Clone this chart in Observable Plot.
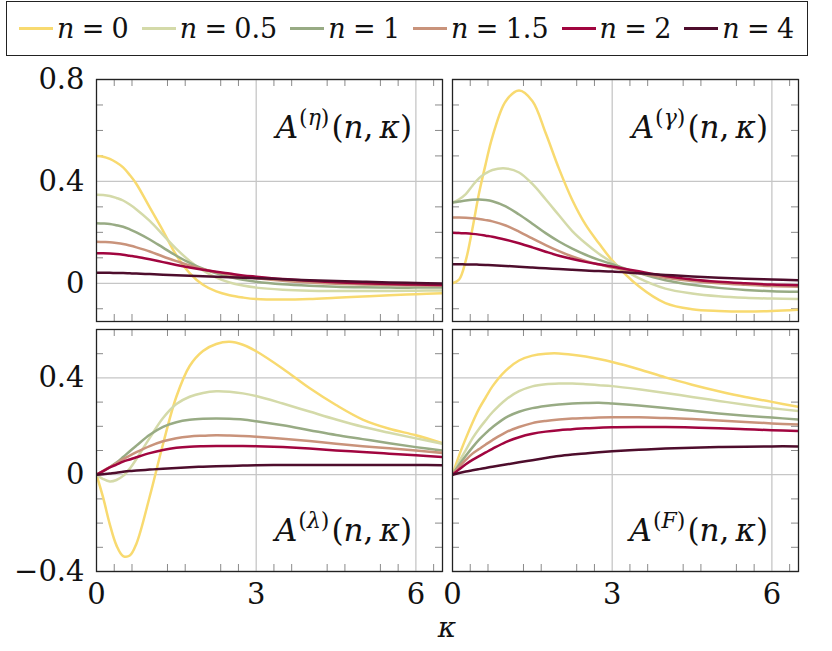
<!DOCTYPE html>
<html><head><meta charset="utf-8">
<script src="https://cdn.jsdelivr.net/npm/d3@7"></script>
<script src="https://cdn.jsdelivr.net/npm/@observablehq/plot@0.6"></script>
<style>
body{margin:0;background:#fff;}
#root{position:relative;width:832px;height:651px;font-family:"DejaVu Serif","Liberation Serif",serif;color:#111;}
#legend{position:absolute;left:6px;top:1px;width:802px;height:55px;box-sizing:border-box;border:1.4px solid #222;display:flex;align-items:center;padding-left:12px;font-size:27px;}
.item{display:flex;align-items:center;margin-right:13px;}
.sw{width:34px;height:3px;margin-right:4px;}
.eq{margin:0 0.27em;}
.panel{position:absolute;}
#kappa{position:absolute;left:407px;width:80px;top:610px;text-align:center;font-style:italic;font-size:28px;line-height:36px;}
</style></head>
<body><div id="root"><div id="legend"></div><div id="kappa">κ</div></div>
<script>
const nValues = ["0","0.5","1","1.5","2","4"];
const colors = ["#f8da70","#d4daa9","#98ab84","#c9937b","#a1053f","#4e0d2c"];
const kappa = [0,0.125,0.25,0.375,0.5,0.625,0.75,1,1.25,1.5,1.75,2,2.25,2.5,2.75,3,3.5,4,4.5,5,5.5,6,6.5];

// A^(eta)
const eta_n0   = [0.5,0.497,0.488,0.474,0.455,0.425,0.39,0.298,0.206,0.11,0.04,-0.006,-0.032,-0.047,-0.056,-0.062,-0.064,-0.062,-0.057,-0.052,-0.047,-0.043,-0.039];
const eta_n05  = [0.348,0.347,0.343,0.335,0.325,0.309,0.29,0.245,0.19,0.135,0.088,0.05,0.022,0.003,-0.009,-0.017,-0.025,-0.029,-0.03,-0.03,-0.03,-0.029,-0.028];
const eta_n1   = [0.236,0.235,0.233,0.228,0.222,0.212,0.2,0.172,0.14,0.108,0.08,0.057,0.039,0.025,0.014,0.006,-0.004,-0.01,-0.014,-0.016,-0.017,-0.017,-0.017];
const eta_n15  = [0.163,0.162,0.161,0.158,0.154,0.148,0.141,0.125,0.105,0.087,0.07,0.055,0.043,0.034,0.026,0.02,0.01,0.003,-0.002,-0.005,-0.007,-0.008,-0.009];
const eta_n2   = [0.118,0.118,0.117,0.115,0.112,0.108,0.104,0.094,0.083,0.072,0.062,0.053,0.045,0.038,0.031,0.026,0.017,0.01,0.004,0.0,-0.003,-0.005,-0.007];
const eta_n4   = [0.041,0.041,0.041,0.04,0.04,0.039,0.038,0.036,0.034,0.032,0.03,0.028,0.026,0.024,0.022,0.02,0.016,0.012,0.009,0.006,0.003,0.001,-0.001];

// A^(gamma)
const gam_n0   = [0,0.015,0.09,0.215,0.355,0.47,0.575,0.715,0.757,0.716,0.59,0.45,0.327,0.23,0.157,0.09,-0.012,-0.078,-0.102,-0.109,-0.111,-0.109,-0.104];
const gam_n05  = [0.317,0.33,0.35,0.383,0.413,0.432,0.445,0.451,0.435,0.39,0.33,0.267,0.205,0.157,0.116,0.082,0.02,-0.021,-0.04,-0.051,-0.057,-0.06,-0.062];
const gam_n1   = [0.317,0.321,0.325,0.328,0.329,0.327,0.322,0.302,0.27,0.234,0.197,0.164,0.136,0.112,0.092,0.075,0.04,0.012,-0.006,-0.018,-0.026,-0.031,-0.033];
const gam_n15  = [0.258,0.258,0.257,0.255,0.252,0.248,0.243,0.227,0.203,0.176,0.15,0.126,0.105,0.088,0.074,0.062,0.04,0.022,0.009,0.0,-0.006,-0.011,-0.014];
const gam_n2   = [0.198,0.197,0.196,0.194,0.191,0.187,0.183,0.171,0.157,0.141,0.124,0.108,0.095,0.084,0.075,0.066,0.047,0.029,0.015,0.006,0.0,-0.005,-0.008];
const gam_n4   = [0.075,0.075,0.074,0.074,0.073,0.072,0.071,0.068,0.065,0.062,0.059,0.056,0.053,0.05,0.048,0.046,0.039,0.033,0.027,0.022,0.018,0.015,0.012];

// A^(lambda)
const lam_n0   = [0,-0.095,-0.205,-0.292,-0.336,-0.334,-0.285,-0.09,0.127,0.322,0.449,0.511,0.54,0.549,0.537,0.51,0.438,0.358,0.288,0.228,0.19,0.163,0.13];
const lam_n05  = [0,-0.018,-0.028,-0.022,-0.005,0.025,0.065,0.152,0.234,0.292,0.322,0.338,0.345,0.343,0.336,0.325,0.294,0.261,0.228,0.198,0.173,0.15,0.128];
const lam_n1   = [0,0.015,0.031,0.05,0.073,0.097,0.12,0.165,0.198,0.217,0.227,0.231,0.232,0.231,0.228,0.221,0.204,0.184,0.164,0.147,0.13,0.114,0.1];
const lam_n15  = [0,0.016,0.032,0.048,0.064,0.079,0.093,0.118,0.138,0.151,0.158,0.161,0.163,0.162,0.16,0.157,0.149,0.139,0.128,0.118,0.109,0.1,0.09];
const lam_n2   = [0,0.015,0.03,0.042,0.054,0.063,0.072,0.089,0.102,0.111,0.116,0.118,0.119,0.119,0.119,0.118,0.114,0.108,0.1,0.094,0.087,0.08,0.073];
const lam_n4   = [0,0.002,0.005,0.008,0.012,0.015,0.017,0.021,0.025,0.028,0.031,0.033,0.035,0.036,0.038,0.039,0.04,0.04,0.04,0.04,0.04,0.04,0.039];

// A^(F)
const F_n0     = [0,0.08,0.15,0.215,0.273,0.32,0.365,0.43,0.472,0.492,0.5,0.501,0.496,0.488,0.478,0.466,0.436,0.402,0.372,0.345,0.321,0.301,0.28];
const F_n05    = [0,0.054,0.102,0.15,0.19,0.225,0.258,0.31,0.345,0.365,0.374,0.377,0.377,0.374,0.37,0.366,0.353,0.338,0.321,0.305,0.289,0.275,0.263];
const F_n1     = [0,0.041,0.078,0.113,0.145,0.172,0.196,0.236,0.26,0.275,0.284,0.29,0.294,0.296,0.297,0.294,0.286,0.276,0.264,0.253,0.244,0.236,0.228];
const F_n15    = [0,0.032,0.061,0.087,0.106,0.125,0.143,0.175,0.197,0.213,0.222,0.228,0.232,0.234,0.236,0.237,0.237,0.234,0.23,0.224,0.218,0.212,0.207];
const F_n2     = [0,0.022,0.043,0.061,0.077,0.092,0.107,0.135,0.155,0.169,0.178,0.184,0.188,0.192,0.194,0.196,0.197,0.197,0.195,0.192,0.188,0.184,0.181];
const F_n4     = [0,0.007,0.013,0.018,0.023,0.028,0.033,0.042,0.051,0.06,0.069,0.077,0.083,0.088,0.093,0.097,0.103,0.108,0.111,0.114,0.116,0.117,0.117];

const xMajor = [0,3,6];
const xMinor = [1,2,4,5,7,8,10,11,13,14,16,17,19].map(i => i/3);
const yMajorTop = [0,0.4,0.8];
const yMinorTop = [-0.1,0.1,0.2,0.3,0.5,0.6,0.7];
const yMajorBot = [-0.4,0,0.4];
const yMinorBot = [-0.3,-0.2,-0.1,0.1,0.2,0.3,0.5];

const FONT = "'DejaVu Serif', 'Liberation Serif', serif";
const TICKFONT = 29;
const fmt = d => d < 0 ? "\u2212" + Math.abs(d) : String(d);

// legend
const legend = document.getElementById("legend");
nValues.forEach((n, i) => {
  const it = document.createElement("div"); it.className = "item";
  it.innerHTML = `<div class="sw" style="background:${colors[i]}"></div><span><i>n</i><span class="eq">=</span>${n}</span>`;
  legend.appendChild(it);
});

function panel(cfg) {
  const {series, yDomain, yMajor, yMinor, showX, showY, width, height, mL, mR, mT, mB, left, top, sup, labelPos} = cfg;
  const data = [];
  series.forEach((vals, i) => vals.forEach((v, j) => data.push({k: kappa[j], v, n: nValues[i]})));
  const pw = width - mL - mR, ph = height - mT - mB;
  const tick = 7;
  const grid = {stroke: "#c6c6c6", strokeOpacity: 1, strokeWidth: 1.3};
  const minor = {stroke: "#8a8a8a", strokeWidth: 1};
  const plot = Plot.plot({
    width, height, marginLeft: mL, marginRight: mR, marginTop: mT, marginBottom: mB,
    style: {background: "transparent", fontFamily: FONT, fontSize: TICKFONT + "px", overflow: "visible", color: "#111"},
    x: {domain: [0, 6.5], axis: null},
    y: {domain: yDomain, axis: null},
    color: {domain: nValues, range: colors},
    marks: [
      Plot.gridX(xMajor.filter(d => d > 0), grid),
      Plot.gridY(yMajor, grid),
      Plot.ruleX(xMinor, {x: d => d, insetBottom: ph - tick, ...minor}),
      Plot.ruleX(xMinor, {x: d => d, insetTop: ph - tick, ...minor}),
      Plot.ruleY(yMinor, {y: d => d, insetRight: pw - tick, ...minor}),
      Plot.ruleY(yMinor, {y: d => d, insetLeft: pw - tick, ...minor}),
      Plot.line(data, {x: "k", y: "v", z: "n", stroke: "n", strokeWidth: 2.5, curve: "catmull-rom", clip: true}),
      Plot.frame({stroke: "#222", strokeWidth: 1.3}),
      showX ? Plot.axisX(xMajor, {tickSize: 0, tickPadding: 12, label: null, fontSize: TICKFONT, fontFamily: FONT, fill: "#111", tickFormat: fmt}) : null,
      showY ? Plot.axisY(yMajor, {tickSize: 0, tickPadding: 12, label: null, fontSize: TICKFONT, fontFamily: FONT, fill: "#111", tickFormat: fmt}) : null
    ]
  });
  plot.classList.add("panel");
  plot.style.left = left + "px";
  plot.style.top = top + "px";
  // panel label
  const xs = plot.scale("x"), ys = plot.scale("y");
  const lx = xs.apply(6.5) - 30;
  const ly = labelPos === "top" ? ys.apply(yDomain[1]) + 59 : ys.apply(yDomain[0]) - 30;
  const t = d3.select(plot).append("text").attr("x", lx).attr("y", ly)
    .attr("text-anchor", "end").attr("font-family", FONT).attr("font-size", 31).attr("fill", "#111");
  t.append("tspan").attr("font-style", "italic").text("A");
  t.append("tspan").attr("font-size", 22).attr("dy", -13).attr("dx", 1).text("(");
  t.append("tspan").attr("font-size", 22).attr("font-style", "italic").text(sup);
  t.append("tspan").attr("font-size", 22).text(")");
  t.append("tspan").attr("dy", 13).attr("dx", 2).text("(");
  t.append("tspan").attr("font-style", "italic").text("n");
  t.append("tspan").text(",\u2009");
  t.append("tspan").attr("font-style", "italic").text("κ");
  t.append("tspan").text(")");
  document.getElementById("root").appendChild(plot);
}

panel({series: [eta_n0, eta_n05, eta_n1, eta_n15, eta_n2, eta_n4], yDomain: [-0.15, 0.8], yMajor: yMajorTop, yMinor: yMinorTop,
  showX: false, showY: true, width: 448, height: 265, mL: 96, mR: 6, mT: 19, mB: 4, left: 0, top: 60, sup: "η", labelPos: "top"});
panel({series: [gam_n0, gam_n05, gam_n1, gam_n15, gam_n2, gam_n4], yDomain: [-0.15, 0.8], yMajor: yMajorTop, yMinor: yMinorTop,
  showX: false, showY: false, width: 384, height: 265, mL: 4, mR: 34, mT: 19, mB: 4, left: 448, top: 60, sup: "γ", labelPos: "top"});
panel({series: [lam_n0, lam_n05, lam_n1, lam_n15, lam_n2, lam_n4], yDomain: [-0.4, 0.6], yMajor: yMajorBot, yMinor: yMinorBot,
  showX: true, showY: true, width: 448, height: 326, mL: 96, mR: 6, mT: 4, mB: 80, left: 0, top: 325, sup: "λ", labelPos: "bottom"});
panel({series: [F_n0, F_n05, F_n1, F_n15, F_n2, F_n4], yDomain: [-0.4, 0.6], yMajor: yMajorBot, yMinor: yMinorBot,
  showX: true, showY: false, width: 384, height: 326, mL: 4, mR: 34, mT: 4, mB: 80, left: 448, top: 325, sup: "F", labelPos: "bottom"});
</script>
</body></html>
